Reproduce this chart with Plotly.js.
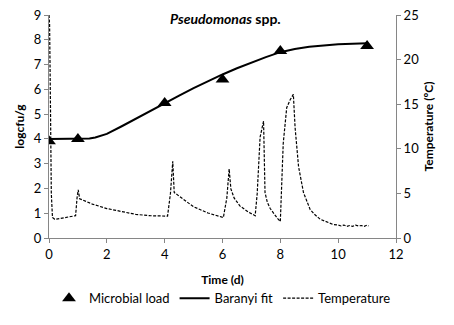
<!DOCTYPE html>
<html>
<head>
<meta charset="utf-8">
<script src="https://cdn.plot.ly/plotly-3.0.1.min.js"></script>
<style>html,body{margin:0;padding:0;background:#fff;}#chart{width:454px;height:325px;}</style>
</head>
<body>
<div id="chart"></div>
<script>
// Microbial load (log cfu/g)
const loadDays = [0, 1, 4, 6, 8, 11];
const loadValues = [3.9, 4.0, 5.45, 6.4, 7.55, 7.75];

// Baranyi fit (log cfu/g)
const fitDays = [0, 0.5, 1, 1.2, 1.4, 1.6, 1.8, 2, 2.5, 3, 3.5, 4, 4.5, 5, 5.5, 6, 6.5, 7, 7.5, 8, 8.5, 9, 9.5, 10, 10.5, 11];
const fitValues = [4.0, 4.0, 4.0, 4.0, 4.02, 4.06, 4.12, 4.2, 4.5, 4.82, 5.13, 5.45, 5.75, 6.05, 6.33, 6.6, 6.85, 7.08, 7.3, 7.5, 7.63, 7.72, 7.78, 7.82, 7.84, 7.86];

// Temperature (°C)
const tempDays = [0.00, 0.02, 0.05, 0.08, 0.12, 0.2, 0.4, 0.6, 0.8, 0.92, 0.97, 1.01, 1.06, 1.2, 1.5, 2.0, 2.5, 3.0, 3.5, 4.1,
  4.2, 4.28, 4.33, 4.5, 5.0, 5.5, 6.03, 6.15, 6.23, 6.29, 6.4, 6.6, 6.9, 7.13, 7.2, 7.3, 7.42, 7.47, 7.55, 7.65, 7.8, 7.9, 8.0,
  8.05, 8.1, 8.22, 8.34, 8.45, 8.51, 8.63, 8.8, 9.03, 9.2, 9.38, 9.6, 9.84, 10.0, 10.1, 10.2, 10.3, 10.4, 10.5, 10.6, 10.7, 10.8, 10.9, 11.0, 11.05];
const tempValues = [25.0, 24.0, 15.0, 5.0, 2.3, 2.1, 2.2, 2.3, 2.4, 2.5, 4.5, 5.4, 4.4, 4.2, 3.8, 3.3, 2.95, 2.65, 2.5, 2.45,
  5.0, 8.6, 5.1, 4.7, 3.5, 2.8, 2.3, 4.5, 7.75, 5.5, 4.5, 3.6, 2.9, 2.5, 5.0, 11.3, 13.1, 5.1, 4.0, 3.3, 2.6, 2.2, 1.85,
  5.5, 10.6, 14.6, 15.5, 16.1, 12.4, 8.0, 5.1, 3.2, 2.6, 2.1, 1.8, 1.5, 1.45, 1.35, 1.45, 1.3, 1.4, 1.3, 1.45, 1.35, 1.4, 1.3, 1.45, 1.35];

const font = "Lato, 'Open Sans', sans-serif";
const axisColor = '#868686';

const traces = [
  {x: loadDays, y: loadValues, type: 'scatter', mode: 'markers', name: 'Microbial load',
   marker: {symbol: 'triangle-up', size: 12, color: '#000'}},
  {x: fitDays, y: fitValues, type: 'scatter', mode: 'lines', name: 'Baranyi fit',
   line: {color: '#000', width: 2}},
  {x: tempDays, y: tempValues, type: 'scatter', mode: 'lines', name: 'Temperature', yaxis: 'y2',
   line: {color: '#000', width: 1.2, dash: '3px,1.5px'}}
];

const layout = {
  width: 454, height: 325,
  margin: {l: 49, r: 58, t: 15, b: 81.5},
  paper_bgcolor: '#fff', plot_bgcolor: '#fff',
  font: {family: font, size: 13, color: '#000'},
  showlegend: true,
  legend: {orientation: 'h', x: 0.5, xanchor: 'center', y: -0.27, yanchor: 'middle',
           font: {size: 13}, itemwidth: 30, tracegroupgap: 0},
  xaxis: {range: [0, 12], dtick: 2, tick0: 0, showgrid: false, zeroline: false,
          showline: true, linecolor: axisColor, linewidth: 1,
          ticks: 'outside', ticklen: 4, tickcolor: axisColor, tickfont: {size: 13},
          title: {text: '<b>Time (d)</b>', font: {size: 12}, standoff: 15}},
  yaxis: {range: [0, 9], dtick: 1, showgrid: false, zeroline: false,
          showline: true, linecolor: axisColor, linewidth: 1,
          ticks: 'outside', ticklen: 4, tickcolor: axisColor, tickfont: {size: 13},
          title: {text: '<b>logcfu/g</b>', font: {size: 12}, standoff: 6}},
  yaxis2: {range: [0, 25], dtick: 5, overlaying: 'y', side: 'right', showgrid: false, zeroline: false,
           showline: true, linecolor: axisColor, linewidth: 1,
           ticks: 'outside', ticklen: 4, tickcolor: axisColor, tickfont: {size: 13},
           title: {text: '<b>Temperature (ºC)</b>', font: {size: 12}, standoff: 6}},
  annotations: [{text: '<b><i>Pseudomonas</i> spp.</b>', xref: 'paper', yref: 'paper',
                 x: 0.51, y: 0.985, xanchor: 'center', yanchor: 'middle', showarrow: false,
                 font: {size: 14}}]
};

Plotly.newPlot('chart', traces, layout, {displayModeBar: false, staticPlot: true});
</script>
</body>
</html>
